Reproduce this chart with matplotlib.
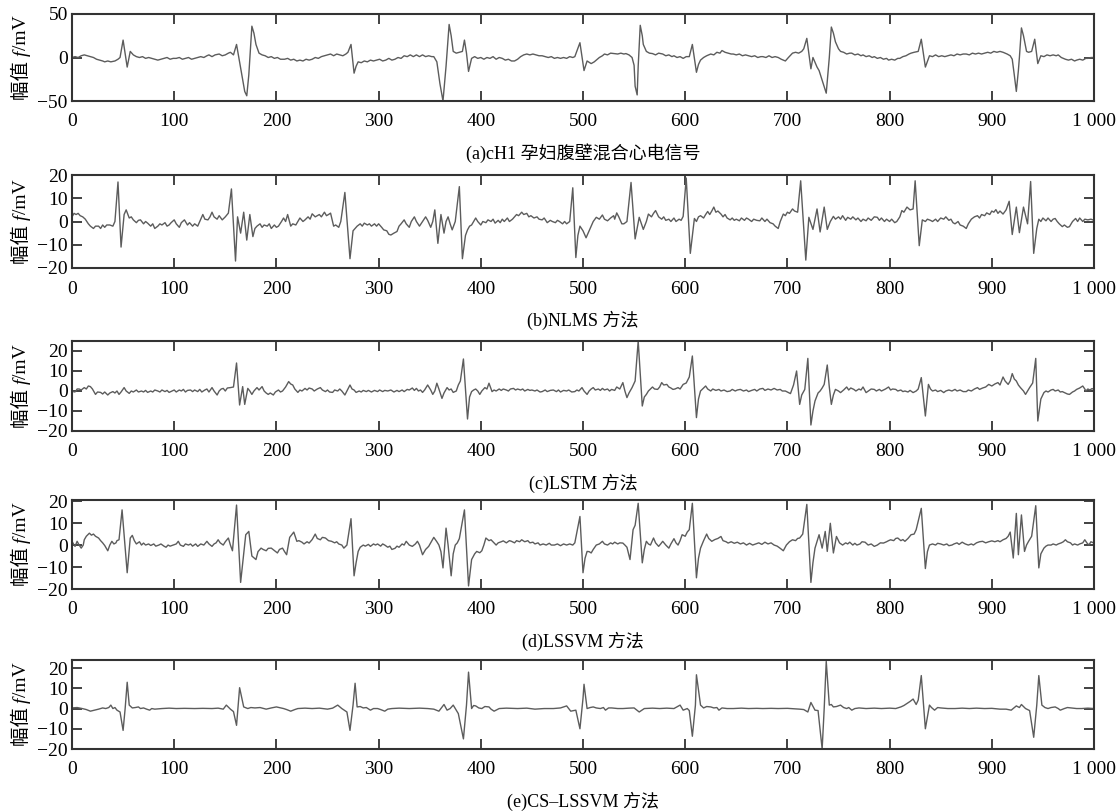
import numpy as np
import matplotlib.pyplot as plt

plt.rcParams['font.family'] = ['Liberation Serif', 'Noto Sans CJK SC']

# traced points (sample index, amplitude mV) for each record
a_pts = [(0, 0), (3, 1), (6, 0), (9, 2), (12, 3), (15, 2), (18, 1), (21, 0), (24, -2), (27, -3), (30, -4), (32, -5),
         (35, -4), (38, -5), (42, -4), (45, -2), (47, 0), (50, 20), (54, -11), (57, 7), (60, 3), (63, 1), (66, 0),
         (69, 1), (72, -1), (75, 0), (78, -1), (81, -2), (84, -3), (87, -2), (90, -1), (93, 0), (96, -2), (99, -1),
         (102, -1), (105, 0), (108, -2), (111, -1), (114, 0), (117, -2), (120, -1), (123, 0), (126, 1), (129, 0),
         (132, 2), (134, 3), (137, 1), (140, 3), (144, 4), (147, 2), (150, 3), (153, 5), (155, 6), (158, 3),
         (161, 15), (165, -12), (169, -39), (171, -44), (173, -20), (174, -1), (176, 36), (178, 28), (180, 15),
         (183, 5), (186, 3), (189, 2), (192, 0), (195, 1), (198, -1), (201, 0), (204, -2), (208, -2), (211, -1),
         (214, -3), (217, -2), (220, -4), (223, -3), (226, -4), (229, -2), (232, -3), (235, -2), (238, 0),
         (241, -1), (244, 1), (247, 2), (250, 3), (253, 4), (256, 2), (259, 4), (262, 3), (265, 2), (268, 4),
         (270, 6), (273, 15), (276, -18), (278, -10), (280, -5), (283, -6), (286, -4), (289, -5), (292, -3),
         (295, -4), (298, -3), (301, -2), (304, -4), (307, -3), (310, -1), (313, -3), (316, -2), (319, 0),
         (322, -1), (325, 2), (328, 1), (331, 3), (334, 1), (337, 3), (340, 1), (343, 3), (346, 1), (349, 2),
         (352, 1), (354, 1), (357, -5), (360, -30), (363, -50), (366, -10), (369, 38), (371, 25), (373, 7),
         (376, 5), (379, 6), (382, 7), (384, 20), (386, 5), (388, -16), (391, -1), (394, 1), (397, -1), (400, 0),
         (403, -2), (406, 0), (409, -1), (412, 1), (415, -2), (418, 0), (421, -1), (424, -3), (427, -2), (430, -4),
         (433, -4), (436, -2), (439, 1), (442, 3), (445, 4), (448, 3), (451, 4), (454, 3), (457, 2), (460, 2),
         (463, 1), (466, 0), (469, 1), (472, -1), (475, 0), (478, -1), (481, 0), (484, -1), (487, 1), (490, 0),
         (492, 1), (497, 17), (501, -15), (504, -4), (508, -7), (511, -5), (513, -3), (516, 0), (519, 2), (521, 4),
         (524, 3), (527, 5), (531, 4.5), (534, 4), (537, 5), (540, 4), (542, 4.5), (545, 3), (548, 0), (550, -9),
         (551, -33), (553, -43), (554, -10), (556, 37), (558, 25), (559, 15), (562, 7), (565, 5), (568, 4.5),
         (571, 3), (574, 5), (578, 4), (581, 2), (584, 3), (587, 1), (589, 2), (592, 0), (595, 1), (598, -1),
         (601, 1), (604, 1), (607, 15), (611, -17), (613, -8), (615, -3), (618, 0), (621, 2), (625, 4), (628, 3),
         (631, 6), (634, 5), (636, 8), (639, 6), (642, 5), (645, 4), (647, 4), (650, 3), (653, 4), (656, 2),
         (659, 3), (662, 2), (665, 1), (668, 2), (671, 0), (674, 1), (676, 1), (679, 0), (682, 2), (685, 0),
         (688, 1), (691, 0), (694, -2), (698, -4), (701, 0), (705, 5), (708, 6), (711, 5), (714, 7), (716, 10),
         (719, 22), (723, -13), (725, 0), (729, -11), (731, -15), (734, -26), (738, -41), (741, 0), (743, 35),
         (745, 28), (747, 18), (750, 10), (752, 7), (755, 6), (758, 4), (761, 5), (763, 5), (766, 3), (769, 4),
         (772, 2), (774, 3), (777, 1), (780, 2), (783, 0), (785, 1), (788, -1), (791, 0), (794, -2), (797, -1),
         (799, -3), (802, -2), (805, -3), (808, -1), (810, -1), (813, 1), (816, 2), (819, 4), (821, 5), (824, 6),
         (828, 7), (831, 21), (835, -11), (839, 2), (842, 1), (845, 3), (848, 1), (851, 2), (854, 1), (857, 2),
         (860, 3), (863, 2), (866, 4), (869, 3), (872, 4), (875, 4), (878, 3), (881, 5), (884, 4), (887, 5),
         (890, 4), (893, 5), (896, 6), (899, 5), (902, 7), (905, 6), (908, 7), (911, 6), (915, 4), (918, 2),
         (920, -2), (922, -20), (924, -39), (926, -15), (927, 0), (929, 34), (931, 25), (934, 7), (936, 6),
         (939, 7), (942, 21), (945, -7), (948, 2), (951, 1), (954, 3), (957, 2), (960, 3), (963, 2), (965, 3),
         (968, 0), (972, -2), (975, -3), (978, -2), (981, -4), (983, -3), (986, -2), (989, -3), (992, -1),
         (994, -1), (997, 0), (1000, 0)]

b_pts = [(0, 2), (2, 3.5), (4, 3), (6, 3.5), (8, 2.5), (10.5, 2), (13, 1), (16, -1), (18, -2), (21, -3), (23, -2),
         (26, -2), (28, -3), (30, -1.5), (32, -2.5), (34, -1.5), (37, -1.5), (40, -2), (42, 0), (45, 17),
         (48, -11), (51, 3), (53, 5), (56, 1.5), (58, 2), (60, 0.7), (63, -0.5), (65, 0.5), (67, 0.7), (70, -1),
         (72, 0), (74, -0.7), (77, -2), (79, -1), (81, -3), (84, -2), (86, -1), (88, -1.5), (91, -0.5), (93, -2),
         (95, -1.5), (97, -0.5), (100, 0.7), (102, -1), (105, -2.5), (107, -0.5), (110, 0.7), (113, -1.5),
         (115, -0.5), (118, -2), (120, -1), (123, -2), (125, 0), (128, 3), (130, 1), (133, 0.7), (135, 2),
         (137, 4), (139, 2), (142, 1), (144, 2.5), (147, 0.7), (150, 2), (153, 3.6), (156, 14), (160, -17),
         (162, 2), (165, -5), (168, 4), (171, -8), (174, 3), (177, -6.5), (179, -3), (181, -2), (184, -1),
         (186, -2.5), (188, -1.5), (191, -2), (193, -1), (195, -3), (198, -1.5), (200, -2.5), (202, -2), (205, 0),
         (207, 1.5), (209, 0), (211, 3), (214, -2), (216, -1), (219, -1.5), (221, 0), (223, 1.5), (226, 0),
         (228, 0.7), (231, 2), (233, 1), (235, 3.3), (238, 2), (240, 2.5), (242, 3), (244, 2), (247, 4),
         (249, 2.5), (251, 3), (253, 3.6), (256, -2), (258, -1.5), (261, -2.5), (263, 0), (267, 12.5), (272, -16),
         (275, -4), (277, -3), (279, -2), (282, -1), (284, -2), (286, -0.7), (289, -1.5), (291, -1), (293, -2),
         (296, -1), (298, -2), (300, -1), (303, -2.5), (305, -3.6), (308, -4), (310, -5.5), (312, -5.8),
         (315, -5), (318, -4.3), (320, -2), (322, -1), (325, 0.7), (327, -1), (330, -2.5), (332, 0), (335, 2),
         (337, 0), (340, -2), (343, 0), (346, 2), (348, 0.5), (351, -2.5), (353, 0), (355, 5), (358, -9.4),
         (361, 3), (364, -5), (366, 0), (368, 2), (370, -1), (372, -3.6), (375, 0), (379, 15), (382, -16),
         (385, -6), (387, -3.6), (389, -2), (391, -1.5), (393, 0), (395, 1.5), (397, 0), (400, -1.5), (402, 0),
         (405, -0.5), (407, 0.7), (410, 0), (412, 1), (414, -0.7), (417, 0.5), (419, -0.5), (421, 1), (423, 0),
         (426, 1.5), (428, 0), (431, 1), (433, 2), (435, 3), (437, 2.5), (440, 4), (442, 3), (445, 3.5), (447, 2),
         (449, 2.5), (452, 1.5), (455, 2), (457, 1), (460, 0.7), (462, 1.5), (465, -0.5), (468, 0.5), (470, 0),
         (473, -0.5), (475, 0.5), (477, 0), (480, -1), (482, 0), (484, -1), (487, 0), (490, 14.5), (493, -15.5),
         (495, -6), (497, -2), (500, -4), (503, -7), (505, -5), (508, -2), (510, 0), (513, 1.8), (516, 1),
         (519, 2.8), (521, 1), (524, 0.3), (527, 1.5), (530, 2.5), (531, 1), (533, 3.7), (535, 2), (538, -1),
         (540, -1), (543, 0), (547, 16.8), (551, -7.5), (555, 1.8), (559, -3.4), (562, 0), (564, 3.2), (567, 2),
         (569, 3.5), (571, 4.7), (574, 2), (577, 1), (579, 2), (581, 0.5), (584, 1), (586, 0), (589, 1.5),
         (591, 0), (594, 1), (596, 0.5), (598, 2.2), (601, 18.7), (605, -13.7), (609, 1.3), (611, 0), (613, 2),
         (615, 2.5), (618, 1.5), (620, 3), (622, 4.3), (624, 3), (626, 4.5), (628, 6.2), (630, 4), (632, 4.5),
         (635, 3.2), (637, 2), (639, 3), (641, 1.5), (644, 0.7), (646, 1.5), (648, 0.5), (650, 1), (653, 0.3),
         (655, 1.5), (658, 0.5), (660, 1.5), (662, 1), (665, 0), (667, 1), (670, 0.5), (673, 0.3), (675, 1.5),
         (678, 0), (680, 1), (683, -0.5), (686, -1), (688, -2), (691, -3), (693, 0), (696, 3.2), (698, 2.5),
         (700, 4), (702, 3.5), (705, 5.4), (707, 4.5), (710, 4), (713, 17.5), (718, -16.6), (721, 1.8),
         (725, -3.4), (729, 5.4), (732, -4.5), (736, 6.2), (739, -3.4), (742, 0), (745, 2.2), (747, 1), (750, 2),
         (752, 1), (754, 2.5), (757, 0.5), (759, 1.8), (762, 1), (764, 2), (767, 0.7), (769, 1.5), (772, 0),
         (774, 1), (777, 0.3), (779, 1.5), (782, 0.5), (785, 2), (788, 1.8), (790, 0.5), (792, 1.5), (795, 0),
         (797, 1), (800, 0), (802, 1), (805, -0.5), (807, 0), (810, 2), (812, 4.7), (814, 4), (817, 6.2),
         (820, 5), (823, 5.4), (825, 17.5), (829, -10.4), (832, 0.7), (835, 0), (837, 1), (840, 0.5), (842, 0),
         (845, 1), (847, 0), (850, 1.5), (853, 1), (855, 2), (858, 0.5), (860, 1), (862, -0.5), (864, -1),
         (867, 0), (869, -1.5), (872, -2), (875, -3), (877, -1), (880, 1), (883, 2), (886, 2.5), (888, 1.5),
         (890, 3), (893, 2.5), (895, 3.7), (898, 3), (900, 4.5), (902, 4), (904, 5.1), (906, 3.5), (908, 4.5),
         (911, 3.2), (914, 5), (917, 8.7), (920, -5.6), (924, 6.2), (927, -4.8), (931, 6.2), (935, -1),
         (938, 17.2), (941, -13.7), (944, -3), (946, 1), (948, 0), (950, 1.5), (953, 0.3), (955, 1.5), (958, 0),
         (960, 1), (962, 1.3), (964, 0), (966, -1), (969, -2.2), (971, -1.5), (974, -2.5), (976, -2.2), (979, 0),
         (982, 1.3), (984, 0), (986, 1.5), (989, 0), (991, 1), (994, 0.7), (997, 1), (1000, 0.5)]

c_pts = [(0, 0.5), (2, -0.5), (3.5, -0.3), (5, 1), (7, 1), (9, 0.5), (12, 1.7), (14, 1), (16, 2.5), (18, 2.2),
         (20, 1), (23, -1.7), (25, -0.5), (28, -0.7), (30, -1.5), (32, -0.5), (35, -2), (37, -1), (40, -0.3),
         (42, -1), (44, 0), (46, -1.7), (48, -0.5), (51, 1.7), (53, 0), (56, -1.2), (58, 0), (60, -0.5), (63, 0.5),
         (65, -0.5), (68, 0), (70, -0.5), (72, 0.3), (74, -0.7), (77, 0), (79, -0.5), (81, 0.5), (84, 0),
         (86, -0.5), (88, 0.5), (91, -0.3), (93, 0.3), (95, -0.7), (98, 0), (100, 0.5), (102, -0.5), (105, 0.5),
         (107, 0), (109, 0.8), (111, -0.5), (113, 0.3), (116, 0.5), (118, -0.3), (120, 0.5), (123, -0.3),
         (125, 0.8), (127, -0.5), (130, 0.5), (132, 1), (134, -0.5), (137, 1.7), (139, 0), (142, -2), (144, 0),
         (146, 1), (148, 1.3), (150, 0), (152, 1.5), (155, 1.7), (158, 2), (161, 14), (164, -7), (167, 2.2),
         (169, -6.7), (172, 1.3), (174, 0), (176, -1.7), (178, 0), (181, 1.7), (183, 0.5), (186, 2.2), (188, 0),
         (190, -1), (192, -1.7), (194, -1), (197, -2), (199, -0.5), (202, 0.5), (204, -0.5), (206, 0), (209, 2),
         (212, 4.7), (214, 3.5), (216, 3), (218, 1), (221, -0.7), (223, 0.5), (225, 0), (228, 1.3), (230, 0.5),
         (232, 1.5), (235, 1), (237, 0), (240, 1), (243, 1.7), (245, 0.5), (248, -0.3), (250, 0.5), (252, -0.5),
         (255, -0.7), (257, 0.5), (260, 0), (262, 1), (264, 0), (267, -2), (269, 0), (272, 3), (274, 1),
         (276, 0.5), (278, -0.7), (281, 0), (283, -0.5), (285, 0.3), (288, -0.3), (290, 0.3), (293, -0.5),
         (296, 0.3), (299, -0.3), (301, 0.5), (304, -0.3), (306, 0.3), (309, 0), (312, 0.5), (315, -0.5),
         (318, 0.3), (320, -0.3), (323, 0.5), (325, -0.3), (328, 0.8), (330, 0.5), (333, 1.5), (335, 0.3),
         (337, 1.3), (339, 0), (341, 0.5), (343, -0.7), (345, 0.5), (348, 3), (351, 0.5), (353, -1.7), (355, 0),
         (357, 3.9), (359, 1), (362, -3.7), (364, -1), (367, 1.7), (369, 0.5), (371, 1), (373, -0.7), (376, 0),
         (378, 3), (380, 5), (383, 16), (387, -14), (389, -3), (391, -0.3), (393, 0.5), (395, 1), (397, 0),
         (399, -1.7), (401, 0), (404, 1.7), (406, 1), (408, 3.9), (410, 1), (411, -0.3), (413, 0.5), (415, 0),
         (418, 1), (420, 0.3), (422, 1), (425, 0.5), (427, 0), (429, 1), (432, 1.3), (434, 0.5), (436, 1),
         (439, 0.5), (441, 1), (443, 0), (446, 0.8), (448, 0.3), (450, 0.5), (453, 0), (455, 0.5), (458, -0.5),
         (460, -0.3), (463, 0.5), (465, -0.3), (468, 0.3), (471, 0.5), (474, -0.3), (476, 0.5), (478, -0.5),
         (481, 0.3), (484, 0), (486, 0.5), (489, -0.5), (492, -0.3), (494, 0.5), (496, 0), (499, 1.7), (501, 0),
         (504, -1.7), (506, 0), (508, 1), (510, 1.7), (512, 0.5), (515, 1), (517, 0.3), (519, 1.3), (521, 0.5),
         (524, 1), (526, 0), (528, 0.8), (531, 0.3), (533, 2), (536, 1), (539, 4.2), (541, 0), (543, -3.3),
         (545, -1), (548, 1.7), (551, 5), (554, 25), (558, -7.5), (560, -3), (562, -1.7), (564, 0), (566, 1),
         (568, 2), (570, 1), (573, 0.8), (575, 2), (577, 4.2), (579, 3), (582, 3.3), (584, 2), (586, 1.5),
         (588, 0.8), (590, 1), (593, 1.7), (595, 1), (598, 3.3), (601, 4), (604, 7), (607, 17.5), (611, -13.3),
         (613, -4), (615, 0), (617, 1), (620, 2.5), (622, 1), (625, 0), (627, 1), (630, 0.3), (633, 0.8),
         (635, 0), (638, 0.5), (641, -0.3), (644, 0), (646, 0.8), (649, 0), (651, 0.5), (654, 0.8), (657, 0),
         (660, 0.5), (662, -0.3), (665, 0.3), (668, 0.8), (670, 0), (673, 1), (676, 1.3), (678, 0.3), (681, 1),
         (684, 0.5), (687, 1.3), (690, 0.5), (693, 0.8), (695, 0), (698, 0), (700, -0.5), (703, -1.3), (706, 3),
         (709, 10), (712, -6.7), (714, -2), (717, 0.8), (720, 16.3), (723, -17), (725, -10), (727, -5), (730, -1),
         (732, 0), (734, 1.5), (736, 3.3), (739, 13), (741, 2), (743, -6.7), (745, -2), (747, 0.8), (750, 0),
         (752, -0.8), (755, 0.5), (758, 2), (760, 0.5), (762, 1.5), (765, 0.8), (767, 0), (770, 1), (772, 0.5),
         (774, 2), (777, -0.8), (780, 0.3), (782, 1), (785, 0.8), (787, 0), (790, 0.8), (792, 0), (794, 0.5),
         (796, 1), (799, 2), (801, 0.5), (803, 1), (806, 0.8), (808, 0), (811, 0.5), (813, -0.3), (815, 0),
         (818, -0.5), (820, 0.3), (823, -0.8), (826, 0), (828, 1), (831, 6.7), (835, -12.5), (838, 3.3), (840, 1),
         (842, 0), (845, 0.5), (847, -0.3), (850, 0.3), (853, -0.8), (855, 0), (858, 0.5), (861, 0), (864, 0.8),
         (866, 0), (869, 0.5), (872, -0.3), (875, -0.3), (877, 0.5), (880, 0), (883, 1), (886, 1.7), (888, 0.8),
         (891, 1.5), (894, 2), (897, 3.3), (900, 2.5), (903, 3.5), (906, 4.2), (908, 3), (911, 7), (913, 5),
         (916, 3.3), (918, 5), (920, 8.7), (922, 6), (924, 5), (926, 3), (928, 1.7), (931, 0), (933, -1.7),
         (935, 0), (937, 1.7), (940, 4), (943, 16.3), (945, -15), (948, -4), (951, -0.8), (953, 0), (955, -0.5),
         (958, 0.5), (960, 0.8), (962, 0), (965, 0.5), (967, -0.5), (969, -0.3), (972, -1), (974, -1.5),
         (976, -1.7), (979, -0.5), (981, 0), (983, 0.8), (986, 1.5), (989, 2.5), (991, 1), (992, 0), (994, 1),
         (996, 0.5), (998, 1.2), (1000, 0.8)]

d_pts = [(0, 1.7), (2, 0), (3, -0.6), (5, 1.7), (7, 0), (9, -1.4), (11, 0), (12, 2.4), (14, 4), (17, 5.4),
         (19, 4.5), (21, 5), (23, 4), (26, 3.2), (28, 2), (30, 1), (32, -0.2), (35, -2.6), (37, 0), (39, 1.7),
         (41, 0.5), (43, 1), (44, 2), (46, 2.4), (49, 16), (54, -12.6), (57, 3.2), (59, 4.4), (61, 2), (63, 0.5),
         (66, 1.5), (68, 0), (70, 0.9), (72, 0), (75, 0.5), (77, -0.2), (80, 0.5), (82, -0.5), (85, 0), (87, 0.5),
         (90, -0.5), (92, -1), (94, 0), (96, -0.5), (99, 0), (102, 0.5), (104, 1.7), (106, 0), (109, -0.6),
         (111, 0.5), (114, 0), (116, 0.5), (118, -0.5), (121, 0.5), (123, -0.6), (126, 0.5), (129, 0), (132, 1.7),
         (134, 0.5), (137, -0.6), (139, 0.5), (141, 1), (143, 2.4), (145, 1), (148, 0), (150, 1.5), (153, 3.2),
         (155, 0), (157, -2.6), (161, 18.2), (165, -17), (170, 4.7), (173, 6.2), (176, -5), (180, -6.6),
         (182, -3), (185, -1.4), (187, -2), (190, -2.6), (192, -1.5), (195, -1.4), (198, -2.5), (201, -3.6),
         (203, -2), (206, -1.4), (208, -3), (210, -4.4), (213, 3.5), (217, 5.9), (220, 1.7), (222, 2), (225, 1.3),
         (227, 0.5), (230, 1.5), (232, 0.9), (235, 2.5), (238, 5), (240, 3), (243, 2.4), (245, 3.5), (248, 3.2),
         (251, 2), (254, 1.7), (257, 1), (259, 1.5), (261, 0.5), (264, 0), (266, -1.4), (269, 0), (273, 12),
         (276, -14), (278, -8), (280, -2.9), (282, -1), (285, 0), (287, -0.5), (290, 0.3), (292, -0.6), (295, 0.5),
         (297, 0), (299, 0.5), (302, -0.5), (304, 0.5), (306, 0), (309, -1), (311, -0.5), (313, -2), (316, -1.5),
         (318, -0.5), (320, -1), (323, 0.5), (325, 0), (327, 1.7), (330, 0), (333, -0.6), (336, 0.5), (338, 1.7),
         (340, 0), (343, -4.4), (346, -2), (349, -0.6), (351, 1), (354, 3.5), (357, 1.5), (359, 0), (361, -3),
         (363, -10.4), (366, 7.7), (368, 0), (371, -14), (373, -4), (375, 0), (377, 1), (379, 2.9), (384, 16),
         (388, -18.6), (391, -6.6), (394, -4), (396, -2.9), (399, -3.5), (401, -2.6), (403, 0), (405, 3.2),
         (408, 2), (410, 2.4), (413, 1), (415, 0), (417, 1), (420, 1.5), (422, 1.9), (425, 1), (428, 2),
         (430, 1.7), (433, 1), (435, 2), (438, 1.5), (440, 2.4), (443, 1.5), (446, 2), (448, 1), (451, 1.3),
         (453, 0.5), (456, 1), (458, 0), (461, 0.5), (464, 0), (467, 0.8), (469, 0), (472, 0), (475, 0.5),
         (478, -0.3), (481, 0.5), (484, 0), (487, 0.5), (490, 0), (492, 1), (497, 13), (500, -12.6), (502, -6),
         (504, -2.9), (506, -3), (508, -3.6), (510, -2), (513, 0), (516, 0.5), (519, 1.7), (521, 0.5), (524, 0),
         (527, 1), (529, 0.5), (531, 1.3), (534, 0.5), (536, 1), (539, 0.9), (541, 0), (543, -1), (546, -6.6),
         (549, 7), (551, 9), (554, 19), (558, -8.1), (560, -2), (562, 1.7), (564, 0.5), (566, 0), (569, 3.2),
         (571, 1), (574, -0.6), (576, 0.5), (578, 1.7), (581, 0), (584, -1.4), (586, 0.5), (589, 2.9), (591, 1),
         (593, 0), (595, 2), (597, 4.7), (600, 4), (602, 5.9), (604, 7), (607, 19), (611, -14.9), (613, -6),
         (615, -1.4), (618, 2), (621, 5), (623, 3), (626, 1.7), (629, 2.5), (632, 3), (635, 3.9), (637, 2),
         (640, 1.5), (642, 0.9), (645, 1.5), (648, 0.8), (651, 1.3), (654, 0.5), (657, 1), (660, 0), (663, 0.8),
         (666, 0), (669, 0.5), (672, 1), (675, 0.3), (678, 1.3), (681, 0.5), (684, 1), (687, 0), (690, -0.5),
         (693, -1.5), (696, -2.6), (699, 0), (702, 1.5), (705, 2.4), (708, 2), (710, 3), (712, 3.2), (715, 5),
         (719, 18.5), (723, -17), (725, -8), (727, -1.4), (731, 4.7), (734, -1.4), (737, 6.2), (739, -2.9),
         (742, 9.9), (745, -3.6), (748, 3.9), (751, 1), (754, 0), (757, 1), (759, 0.5), (761, 1.3), (764, 0),
         (766, 0.8), (768, 0), (771, 0.5), (773, 1.5), (776, 1.3), (779, 0), (782, 0.5), (785, -0.6), (788, 0),
         (791, 1), (794, 0.9), (797, 1.5), (799, 2), (801, 2.4), (804, 2), (806, 3), (808, 3.2), (811, 2),
         (813, 2.5), (815, 1.7), (818, 3), (821, 4.7), (824, 5), (826, 7), (831, 16.7), (835, -10.7), (837, -3),
         (839, 0), (842, 0.5), (845, 0), (847, 0.8), (850, 0.5), (853, 0), (856, 0.5), (858, -0.3), (861, 0),
         (863, 0.5), (866, 1), (868, 0.3), (871, 1.3), (874, 0.5), (877, 0), (880, 0.5), (882, 0), (885, 1),
         (888, 1.5), (891, 1.7), (894, 1), (897, 1.5), (900, 1.9), (903, 1.5), (906, 2), (908, 1.5), (911, 2.4),
         (914, 3), (916, 4), (918, 5.9), (921, -5.9), (924, 14.4), (926, -4.4), (929, 13.7), (932, -2.9),
         (934, 0), (936, 1.7), (939, 4), (943, 17.9), (946, -10.4), (948, -4), (951, -1.4), (953, -0.5), (955, 0),
         (958, 0), (960, 0.5), (963, 0), (965, 0.5), (968, 1), (970, 1.5), (972, 2.4), (974, 1.5), (977, 1),
         (979, 0), (981, 0.5), (984, 0), (986, 0.5), (989, 1), (991, 2.4), (993, 1), (995, 0), (997, 1.5),
         (1000, 0.9)]

e_pts = [(0, 0.3), (5, 0.5), (10, 0), (14, -0.5), (18, -1.3), (22, -0.8), (26, -0.3), (30, 0.3), (33, 0),
         (36, 0.5), (38, 1.7), (40, 0), (42, 0.5), (44, -0.8), (47, -1.7), (50, -10.8), (52, 0), (54, 13),
         (56, 1.7), (59, 0.3), (62, 0.5), (65, 0.8), (67, 0), (70, 0.3), (73, -0.3), (76, -0.8), (78, 0), (81, -0.3),
         (88, 0), (95, 0.2), (102, 0), (110, 0.1), (120, 0), (128, 0.1), (137, 0), (143, 0.2), (148, -0.3),
         (151, 1.7), (155, -0.3), (158, -1.5), (161, -8.3), (164, 10.3), (168, 0.8), (172, 0), (175, 0.5),
         (179, 0.3), (184, 0.5), (190, -0.3), (195, 0.3), (200, 0.8), (207, 0), (210, -0.5), (214, -1.3), (218, -0.5),
         (221, 0), (228, 0.2), (235, 0), (242, 0.2), (250, -0.3), (255, 0.2), (260, 1.7), (264, 0), (269, -1.7),
         (272, -10.8), (275, 1.7), (277, 12.5), (279, 0.8), (282, 1), (285, 0.3), (288, 0.5), (292, -0.8),
         (295, 0), (299, 0), (302, -0.5), (306, -1.3), (309, -0.3), (313, 0), (320, 0.2), (330, 0), (340, 0.2),
         (348, 0), (354, -0.3), (359, -1.3), (364, 2), (367, -0.8), (370, 0), (373, 1.7), (378, -2.5),
         (383, -15), (386, 1.7), (388, 18), (391, 0), (393, 1.5), (395, 1.3), (398, 0.3), (401, 0), (404, 1),
         (408, 0.8), (410, -0.3), (413, -1.3), (418, 0), (425, 0.2), (436, 0), (445, 0.2), (453, -0.3), (462, 0),
         (471, 0), (478, 0.3), (484, 1.3), (488, -1.3), (493, -0.8), (497, -10), (500, 5), (501, 12), (504, 0),
         (507, 0.5), (510, 0.8), (513, 0.3), (517, 0), (520, 0.5), (522, -0.8), (525, 0.3), (528, 0.3), (534, 0),
         (539, 0), (545, 0.2), (550, 0.3), (555, -1.7), (560, 0), (568, 0.2), (575, 0), (582, 0.2), (589, 0),
         (595, 1.7), (598, -0.8), (602, 0), (604, -1), (607, -13.7), (610, 1.7), (611, 16.7), (615, 1.7),
         (618, 0.3), (621, 1), (625, 0.8), (628, 0.3), (631, 0.5), (633, -0.8), (636, 0.3), (641, 0), (647, 0),
         (655, 0.2), (662, 0), (670, 0.1), (676, 0), (684, 0.1), (691, 0), (700, 0.1), (712, -0.3), (716, -0.5),
         (720, -1.7), (723, 3), (727, -0.8), (730, -1), (734, -20), (736, 0), (738, 23.3), (741, 1.7), (743, 2),
         (745, 0.8), (748, 1), (752, 1.7), (755, 0.5), (758, 0), (760, 0.5), (763, -0.8), (766, 0), (770, 0.3),
         (777, 0), (785, 0.2), (792, 0), (800, 0.2), (806, 0), (811, 0.8), (814, 1.5), (817, 2.5), (820, 3.5),
         (823, 4.7), (826, 2), (828, 4.2), (831, 16.3), (835, -10), (839, 1.7), (841, 0.5), (844, -0.8),
         (847, 0.5), (850, 0.3), (857, 0), (864, 0), (871, 0.2), (878, 0), (885, 0.2), (893, 0), (900, 0.1),
         (908, -0.3), (914, -0.3), (919, -0.8), (924, 1.3), (927, 0.5), (929, 2), (933, 0), (937, -1), (941, -14.2),
         (944, 1.7), (946, 16.3), (949, 1.7), (952, 0.5), (955, 0), (958, 0.5), (962, 0.8), (965, 0),
         (967, -0.8), (971, 0), (974, 0.5), (978, 0.3), (983, 0), (988, 0), (994, 0.2), (1000, 0)]

captions = ['(a)cH1 孕妇腹壁混合心电信号', '(b)NLMS 方法', '(c)LSTM 方法', '(d)LSSVM 方法', '(e)CS–LSSVM 方法']
# y label drawn in pieces so "f" can be italic without mathtext
ylabel_parts = [('幅值 ', 'normal'), ('f', 'italic'), ('/mV', 'normal')]
ylims = [(-50, 50), (-20, 20), (-20, 25), (-20, 20.5), (-20, 24)]
yticks = [[-50, 0, 50], [-20, -10, 0, 10, 20], [-20, -10, 0, 10, 20], [-20, -10, 0, 10, 20], [-20, -10, 0, 10, 20]]
xticks = [0, 100, 200, 300, 400, 500, 600, 700, 800, 900, 1000]
xticklabels = ['0', '100', '200', '300', '400', '500', '600', '700', '800', '900', '1 000']

W, H = 1117, 811
fig = plt.figure(figsize=(W / 100, H / 100), dpi=100)
renderer = fig.canvas.get_renderer()

# length of each label piece along the text direction
part_len = []
for s, st in ylabel_parts:
    t = fig.text(0, 0, s, fontsize=14, style=st)
    part_len.append(t.get_window_extent(renderer).width)
    t.remove()

# panel boxes in pixels: (top, bottom)
boxes = [(14, 101), (175, 268), (341, 431), (500, 589), (660, 749)]
left, right = 72, 1094

for pts, cap, yl, yt, (top, bot) in zip([a_pts, b_pts, c_pts, d_pts, e_pts], captions, ylims, yticks, boxes):
    ax = fig.add_axes([left / W, 1 - bot / H, (right - left) / W, (bot - top) / H])
    x, y = np.array(pts).T
    ax.plot(x, y, color='#5c5c5c', lw=1.0)
    ax.set_xlim(0, 1000)
    ax.set_ylim(*yl)
    ax.set_xticks(xticks)
    ax.set_xticklabels(xticklabels)
    ax.set_yticks(yt)
    ax.tick_params(direction='in', top=True, right=True, length=7, width=1.3, colors='#333333',
                   labelcolor='black', labelsize=14)
    ax.tick_params(axis='x', pad=9)
    ax.tick_params(axis='y', pad=3)
    for s in ax.spines.values():
        s.set_linewidth(1.5)
        s.set_color('#333333')

    # rotated y label, stacked from the bottom up
    ypos = (H - (top + bot) / 2) - sum(part_len) / 2
    for (s, st), ln in zip(ylabel_parts, part_len):
        fig.text(22 / W, ypos / H, s, rotation=90, ha='center', va='bottom', fontsize=14, style=st)
        ypos += ln

    fig.text((left + right) / 2 / W, 1 - (bot + 52) / H, cap, ha='center', va='center', fontsize=13)

fig.savefig('out.png', dpi=100)
